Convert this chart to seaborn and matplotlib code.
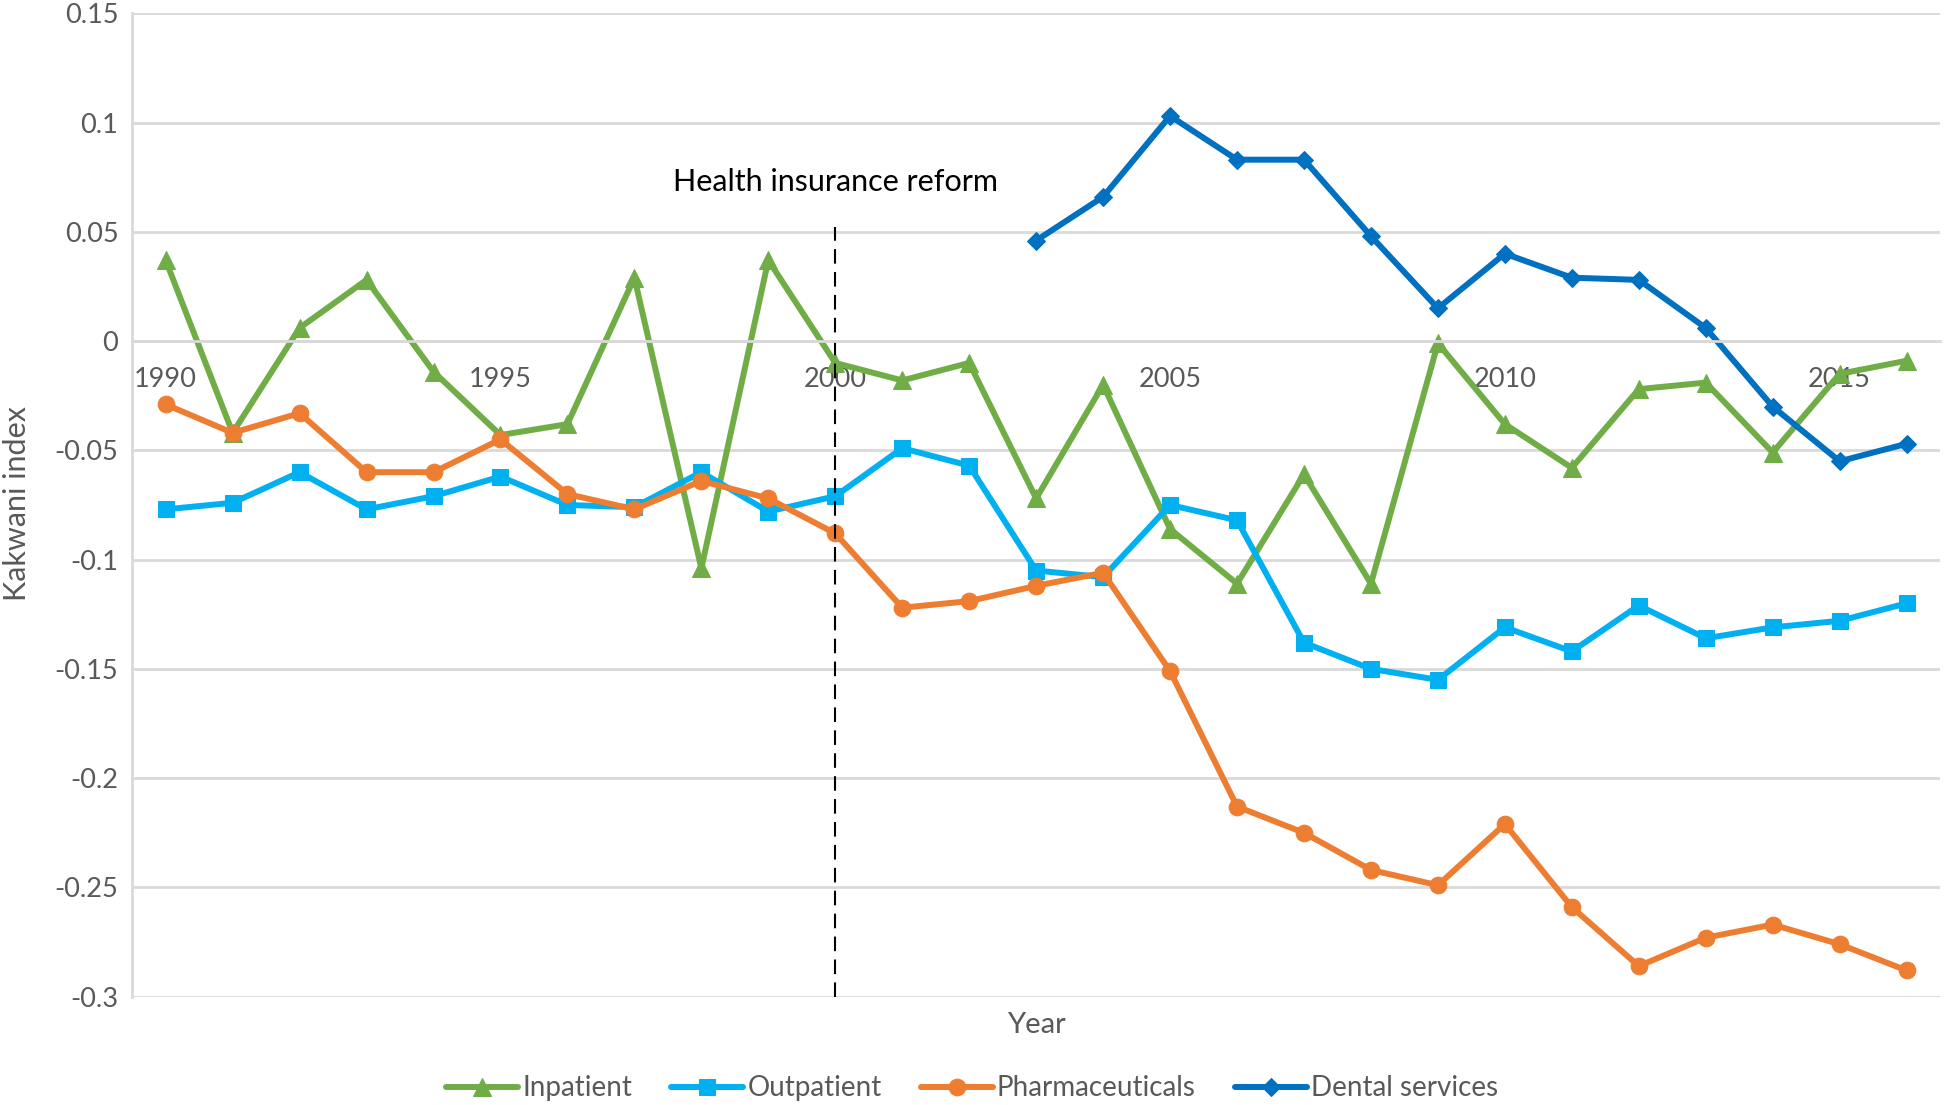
import numpy as np
import pandas as pd
import seaborn as sns
import matplotlib.pyplot as plt

years = list(range(1990, 2017))
inpatient = [0.037, -0.042, 0.006, 0.028, -0.014, -0.043, -0.038, 0.029, -0.104, 0.037,
             -0.010, -0.018, -0.010, -0.072, -0.020, -0.086, -0.111, -0.061, -0.111, -0.001,
             -0.038, -0.058, -0.022, -0.019, -0.051, -0.015, -0.009]
outpatient = [-0.077, -0.074, -0.060, -0.077, -0.071, -0.062, -0.075, -0.076, -0.060, -0.078,
              -0.071, -0.049, -0.057, -0.105, -0.108, -0.075, -0.082, -0.138, -0.150, -0.155,
              -0.131, -0.142, -0.121, -0.136, -0.131, -0.128, -0.120]
pharma = [-0.029, -0.042, -0.033, -0.060, -0.060, -0.045, -0.070, -0.077, -0.064, -0.072,
          -0.088, -0.122, -0.119, -0.112, -0.106, -0.151, -0.213, -0.225, -0.242, -0.249,
          -0.221, -0.259, -0.286, -0.273, -0.267, -0.276, -0.288]
dental_years = list(range(2003, 2017))
dental = [0.046, 0.066, 0.103, 0.083, 0.083, 0.048, 0.015, 0.040, 0.029, 0.028,
          0.006, -0.030, -0.055, -0.047]

reform_year = 2000
yticks = [0.15, 0.1, 0.05, 0, -0.05, -0.1, -0.15, -0.2, -0.25, -0.3]
ytick_labels = ["0.15", "0.1", "0.05", "0", "-0.05", "-0.1", "-0.15", "-0.2", "-0.25", "-0.3"]
xticks = [1990, 1995, 2000, 2005, 2010, 2015]

sns.set_style("white")
plt.rcParams['font.family'] = ['Lato', 'DejaVu Sans']

fig = plt.figure(figsize=(19.44, 11.05), dpi=100)
ax = fig.add_axes([0.068, 0.098, 0.93, 0.89])

series = [
    ("Inpatient", years, inpatient, "#70AD47", "^", 13),
    ("Outpatient", years, outpatient, "#00B0F0", "s", 12),
    ("Pharmaceuticals", years, pharma, "#ED7D31", "o", 12),
    ("Dental services", dental_years, dental, "#0070C0", "D", 9),
]
for name, xs, ys, col, mk, ms in series:
    df = pd.DataFrame({"Year": xs, "Kakwani index": ys})
    sns.lineplot(data=df, x="Year", y="Kakwani index", ax=ax, color=col, marker=mk,
                 markersize=ms, markeredgecolor=col, linewidth=4.3, label=name)

ax.set_xlim(1989.5, 2016.5)
ax.set_ylim(-0.3, 0.15)
ax.set_yticks(yticks)
ax.set_yticklabels(ytick_labels)
ax.set_xticks(xticks)
ax.set_xticklabels([str(x) for x in xticks])
ax.grid(axis='y', color='#d9d9d9', linewidth=2)
ax.set_axisbelow(True)

for s in ['top', 'right']:
    ax.spines[s].set_visible(False)
ax.spines['left'].set_color('#d9d9d9')
ax.spines['left'].set_linewidth(2)
ax.spines['bottom'].set_position(('data', 0))
ax.spines['bottom'].set_color('#d9d9d9')
ax.spines['bottom'].set_linewidth(2)
ax.tick_params(axis='x', length=0, pad=19, labelsize=19.5, labelcolor='#595959')
ax.tick_params(axis='y', length=0, pad=10, labelsize=19.5, labelcolor='#595959')
ax.set_xlabel("")
ax.set_ylabel("")

ax.vlines(reform_year, -0.3, 0.052, colors='black', linestyles=(0, (7, 4)), linewidth=1.5)
ax.text(reform_year, 0.073, "Health insurance reform", ha='center', va='center',
        fontsize=22, color='black')

ax.text(0.5, -0.029, "Year", transform=ax.transAxes, ha='center', va='center',
        fontsize=21, color='#595959')
fig.text(0.009, 0.544, "Kakwani index", rotation=90, ha='center', va='center',
         fontsize=22, color='#595959')

ax.get_legend().remove()
handles, labels = ax.get_legend_handles_labels()
leg = fig.legend(handles, labels, loc='center', bbox_to_anchor=(0.5, 0.015), ncol=4,
                 frameon=False, fontsize=20, handlelength=2.6, handletextpad=0.15,
                 columnspacing=1.4)
for t in leg.get_texts():
    t.set_color('#595959')

fig.savefig("out.png", dpi=100)
